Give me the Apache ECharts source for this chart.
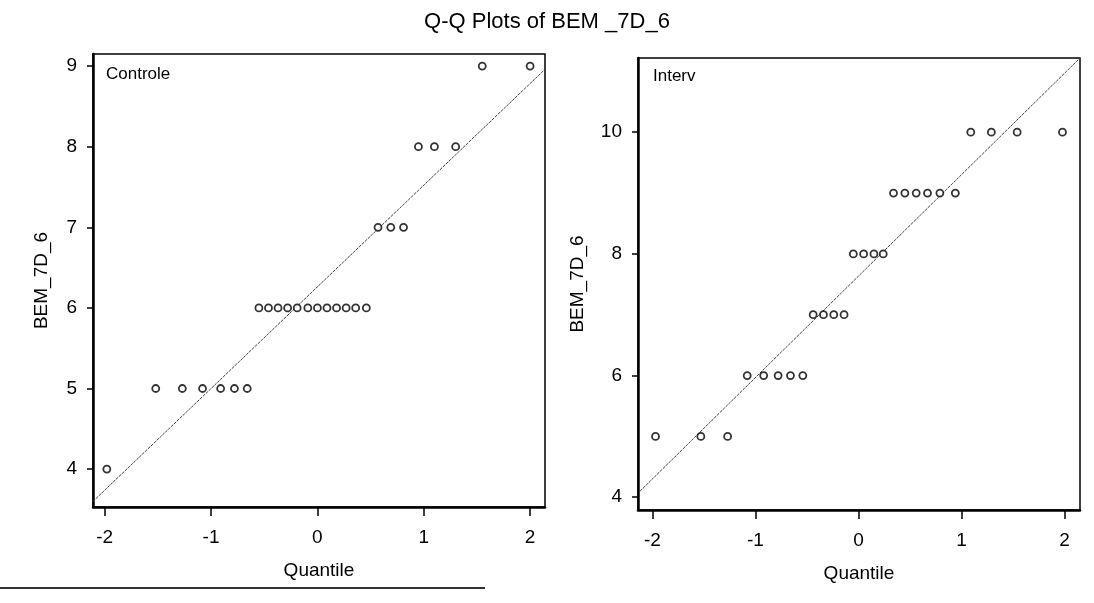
<!DOCTYPE html>
<html>
<head>
<meta charset="utf-8">
<script src="https://cdn.jsdelivr.net/npm/echarts@6/dist/echarts.min.js"></script>
<style>
  html, body { margin: 0; padding: 0; background: #fff; }
  #char { width: 1094px; height: 603px; }
</style>
</head>
<body>
<div id="char"></div>
<script>
// Controle group: expected normal quantile vs observed value
let controlQ = [-1.98,
  -1.52, -1.27, -1.08, -0.91, -0.78, -0.66,
  -0.55, -0.46, -0.37, -0.28, -0.19, -0.09, 0.0, 0.09, 0.18, 0.27, 0.36, 0.46,
  0.57, 0.69, 0.81,
  0.95, 1.10, 1.30,
  1.55, 2.0]
let controlY = [4,
  5, 5, 5, 5, 5, 5,
  6, 6, 6, 6, 6, 6, 6, 6, 6, 6, 6, 6,
  7, 7, 7,
  8, 8, 8,
  9, 9]
// Interv group
let intervQ = [-1.97, -1.53, -1.27,
  -1.08, -0.92, -0.78, -0.66, -0.54,
  -0.44, -0.34, -0.24, -0.14,
  -0.05, 0.05, 0.15, 0.24,
  0.34, 0.45, 0.56, 0.67, 0.79, 0.94,
  1.09, 1.29, 1.54, 1.98]
let intervY = [5, 5, 5,
  6, 6, 6, 6, 6,
  7, 7, 7, 7,
  8, 8, 8, 8,
  9, 9, 9, 9, 9, 9,
  10, 10, 10, 10]
// expected normal reference lines (end points, quantile / value)
let controlLine = [[-2.11, 3.6], [2.14, 8.96]]
let intervLine = [[-2.12, 4.1], [2.15, 11.22]]

let xTicks = [-2, -1, 0, 1, 2]
let controlTicks = [4, 5, 6, 7, 8, 9]
let intervTicks = [4, 6, 8, 10]

let font = 'Liberation Sans, Arial, sans-serif'

function pairs(q, y) {
  return q.map((v, i) => [v, y[i]])
}

function xAxisOf(gridIndex, min, max) {
  return {
    type: 'value',
    gridIndex: gridIndex,
    min: min,
    max: max,
    name: 'Quantile',
    nameLocation: 'middle',
    nameGap: 54,
    nameTextStyle: { color: '#000', fontSize: 19, fontFamily: font },
    axisLine: { show: true, onZero: false, lineStyle: { color: '#000', width: 2.5 } },
    axisTick: { show: true, length: 9, customValues: xTicks, lineStyle: { color: '#000', width: 1.5 } },
    axisLabel: { customValues: xTicks, margin: 21, color: '#000', fontSize: 19, fontFamily: font },
    splitLine: { show: false }
  }
}

function yAxisOf(gridIndex, min, max, ticks, gap) {
  return {
    type: 'value',
    gridIndex: gridIndex,
    min: min,
    max: max,
    name: 'BEM_7D_6',
    nameLocation: 'middle',
    nameGap: gap,
    nameRotate: 90,
    nameTextStyle: { color: '#000', fontSize: 19, fontFamily: font },
    axisLine: { show: true, onZero: false, lineStyle: { color: '#000', width: 2.5 } },
    axisTick: { show: true, length: 6, customValues: ticks, lineStyle: { color: '#000', width: 1.5 } },
    axisLabel: { customValues: ticks, margin: 16, color: '#000', fontSize: 19, fontFamily: font },
    splitLine: { show: false }
  }
}

function pointSeries(idx, data) {
  return {
    type: 'scatter',
    xAxisIndex: idx,
    yAxisIndex: idx,
    data: data,
    symbol: 'circle',
    symbolSize: 7,
    itemStyle: { color: '#fff', borderColor: '#000', borderWidth: 1.8 },
    z: 3
  }
}

function lineSeries(idx, data) {
  return {
    type: 'line',
    xAxisIndex: idx,
    yAxisIndex: idx,
    data: data,
    symbol: 'none',
    lineStyle: { color: '#444', width: 1, type: [3, 1] },
    z: 2
  }
}

let myChart = echarts.init(document.getElementById('char'))
let option = {
  animation: false,
  backgroundColor: '#fff',
  title: {
    text: 'Q-Q Plots of BEM _7D_6',
    left: 'center',
    top: 6,
    textStyle: { color: '#000', fontSize: 22, fontWeight: 'normal', fontFamily: font }
  },
  grid: [
    { left: 93, top: 54, width: 452, height: 453, show: true, borderColor: '#000', borderWidth: 1.5 },
    { left: 638, top: 58, width: 442, height: 452, show: true, borderColor: '#000', borderWidth: 1.5 }
  ],
  xAxis: [xAxisOf(0, -2.11, 2.14), xAxisOf(1, -2.14, 2.15)],
  yAxis: [yAxisOf(0, 3.53, 9.15, controlTicks, 42), yAxisOf(1, 3.79, 11.22, intervTicks, 51)],
  graphic: [
    { type: 'text', left: 106, top: 66, style: { text: 'Controle', fill: '#000', fontSize: 17, fontFamily: font } },
    { type: 'text', left: 653, top: 68, style: { text: 'Interv', fill: '#000', fontSize: 17, fontFamily: font } },
    { type: 'line', shape: { x1: 0, y1: 588, x2: 485, y2: 588 }, style: { stroke: '#333', lineWidth: 2 } }
  ],
  series: [
    lineSeries(0, controlLine),
    pointSeries(0, pairs(controlQ, controlY)),
    lineSeries(1, intervLine),
    pointSeries(1, pairs(intervQ, intervY))
  ]
}
myChart.setOption(option)
</script>
</body>
</html>
